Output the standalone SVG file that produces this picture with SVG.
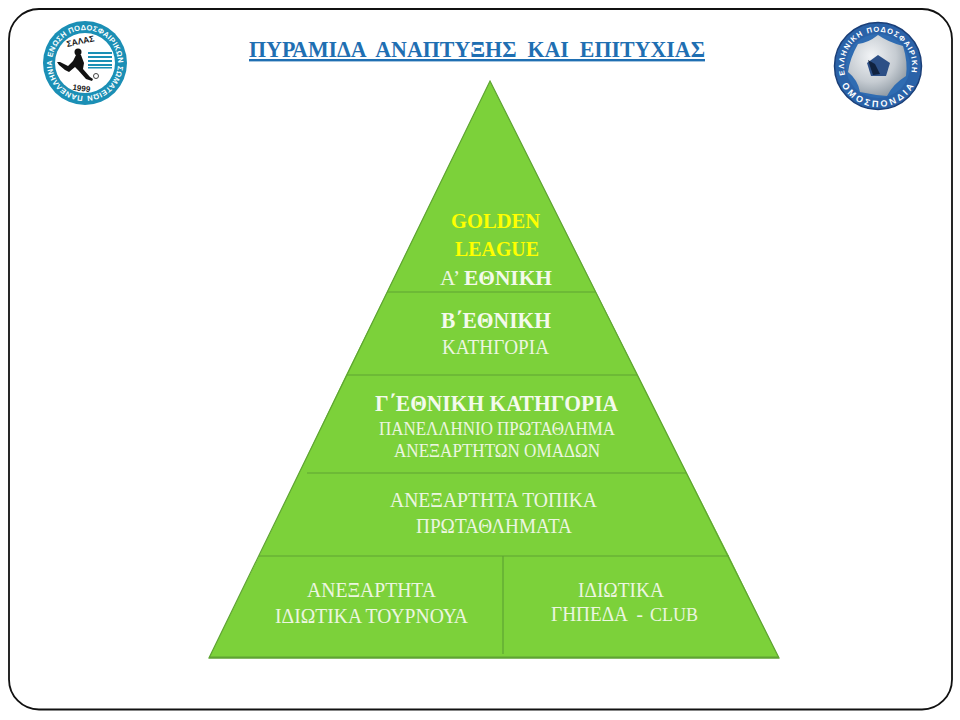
<svg xmlns="http://www.w3.org/2000/svg" width="960" height="720" viewBox="0 0 960 720">
<style>
.layer{fill:#7CD13A;stroke:none}
.div{stroke:#5EA432;stroke-width:1.2;fill:none}
text{font-family:"Liberation Serif","Noto Serif",serif}
.t{fill:#ECF6E0;font-size:22px;text-anchor:middle}
.b{font-weight:bold;fill:#F4FAEC}
.y{fill:#FFFF00;font-weight:bold;font-size:22px;text-anchor:middle}
.lg{font-family:"Liberation Sans",sans-serif;font-weight:bold;font-size:7.500px;fill:#fff}
.ls{font-family:"Liberation Sans",sans-serif;font-weight:bold;text-anchor:middle;fill:#1a1a1a}
</style>
<defs>
<radialGradient id="ball" cx="40%" cy="35%" r="70%"><stop offset="0" stop-color="#F2F4F6"/><stop offset="0.6" stop-color="#C6CCD2"/><stop offset="1" stop-color="#8E99A3"/></radialGradient>
<path id="arcL" d="M85,96 a33,33 0 1 1 0,-66 a33,33 0 1 1 0,66"/>
<path id="arcR" d="M845.200,74.800 a34,34 0 1 1 65.600,0"/>
<path id="arcRb" d="M840.800,83.300 a41,41 0 0 0 74.400,0"/>
</defs>
<rect width="960" height="720" fill="#fff"/>
<g id="frame"><rect x="9" y="9" width="943" height="700.500" rx="30" ry="30" fill="#fff" stroke="#111" stroke-width="1.800"/></g>
<g id="title"><text x="477" y="57" text-anchor="middle" font-size="24" font-weight="bold" fill="#1F6FB2" text-decoration="underline" style="white-space:pre" textLength="456" lengthAdjust="spacingAndGlyphs">ΠΥΡΑΜΙΔΑ  ΑΝΑΠΤΥΞΗΣ  ΚΑΙ  ΕΠΙΤΥΧΙΑΣ</text></g>
<g id="logo-salas">
<circle cx="85" cy="63" r="42" fill="#1B8FB5"/>
<circle cx="85" cy="63" r="30" fill="#fff"/>
<text class="lg"><textPath href="#arcL" startOffset="1%" textLength="203" lengthAdjust="spacing">ΠΑΝΕΛΛΗΝΙΑ ΕΝΩΣΗ ΠΟΔΟΣΦΑΙΡΙΚΩΝ ΣΩΜΑΤΕΙΩΝ</textPath></text>
<text class="ls" x="81" y="44" font-size="8.500" transform="rotate(-12 81 44)">ΣΑΛΑΣ</text>
<circle cx="78" cy="52" r="3.500" fill="#111"/>
<path d="M76 55 l5 0 3 8 -1 6 7 8 3 2 -1 2 -6 -2 -8 -9 -3 -3 -6 5 -4 -2 -6 -5 -2 -3 3 0 8 4 5 -5 z" fill="#111"/>
<g fill="#1B8FB5"><rect x="88" y="52" width="24" height="2"/><rect x="88" y="56" width="24" height="2"/><rect x="88" y="60" width="24" height="2"/><rect x="88" y="64" width="24" height="2"/><rect x="88" y="67" width="24" height="1.500"/></g>
<circle cx="96" cy="76" r="2.500" fill="#fff" stroke="#444"/>
<text class="ls" x="81" y="91" font-size="8" transform="rotate(8 81 91)">1999</text>
</g>
<g id="logo-epo">
<circle cx="878" cy="66" r="43.500" fill="#2A62A8" stroke="#1B3F78" stroke-width="1.500"/>
<circle cx="878" cy="66" r="32" fill="#2F6CB2"/>
<path d="M878 35 Q888 42 903 46 Q908 62 906 76 Q893 84 887 96 Q874 95 860 92 Q858 80 848 72 Q850 58 858 44 Q868 43 878 35 z" fill="url(#ball)"/>
<path d="M878 55 l12 8 -4 13 -15 0 -4 -13 z" fill="#2C4F86"/>
<path d="M868 60 l7 4 5 10 -7 1 z" fill="#10223F"/>
<text class="lg"><textPath href="#arcR" textLength="122">ΕΛΛΗΝΙΚΗ ΠΟΔΟΣΦΑΙΡΙΚΗ</textPath></text>
<text class="lg" style="font-size:9px"><textPath href="#arcRb" startOffset="2%" textLength="88">ΟΜΟΣΠΟΝΔΙΑ</textPath></text>
</g>
<g id="level-1"><polygon class="layer" points="490,81 596,292 387,292"/>
<text class="y" x="495.500" y="228" textLength="89" lengthAdjust="spacingAndGlyphs">GOLDEN</text>
<text class="y" x="497" y="256" textLength="84" lengthAdjust="spacingAndGlyphs">LEAGUE</text>
<text class="t" x="496" y="285" textLength="112" lengthAdjust="spacingAndGlyphs">Α’ <tspan class="b">ΕΘΝΙΚΗ</tspan></text></g>
<g id="level-2"><polygon class="layer" points="387,292 596,292 638,375 346,375"/>
<text class="t b" x="496" y="328" textLength="110" lengthAdjust="spacingAndGlyphs" style="font-size:24px">Β΄ΕΘΝΙΚΗ</text>
<text class="t" x="495.500" y="354" textLength="107" lengthAdjust="spacingAndGlyphs">ΚΑΤΗΓΟΡΙΑ</text></g>
<g id="level-3"><polygon class="layer" points="346,375 638,375 687,473 299,473"/>
<text class="t b" x="496.500" y="411" textLength="243" lengthAdjust="spacingAndGlyphs" style="font-size:24px">Γ΄ΕΘΝΙΚΗ ΚΑΤΗΓΟΡΙΑ</text>
<text class="t" x="497" y="435" textLength="236" lengthAdjust="spacingAndGlyphs" style="font-size:19px">ΠΑΝΕΛΛΗΝΙΟ ΠΡΩΤΑΘΛΗΜΑ</text>
<text class="t" x="497" y="457" textLength="206" lengthAdjust="spacingAndGlyphs" style="font-size:19px">ΑΝΕΞΑΡΤΗΤΩΝ ΟΜΑΔΩΝ</text></g>
<g id="level-4"><polygon class="layer" points="299,473 687,473 729,556 259,556"/>
<text class="t" x="493.500" y="507" textLength="207" lengthAdjust="spacingAndGlyphs">ΑΝΕΞΑΡΤΗΤΑ ΤΟΠΙΚΑ</text>
<text class="t" x="494" y="533" textLength="156" lengthAdjust="spacingAndGlyphs">ΠΡΩΤΑΘΛΗΜΑΤΑ</text></g>
<g id="level-5-left"><polygon class="layer" points="259,556 503,556 503,658 209,658"/>
<text class="t" x="371.500" y="597" textLength="129" lengthAdjust="spacingAndGlyphs">ΑΝΕΞΑΡΤΗΤΑ</text>
<text class="t" x="371.500" y="623" textLength="193" lengthAdjust="spacingAndGlyphs">ΙΔΙΩΤΙΚΑ ΤΟΥΡΝΟΥΑ</text></g>
<g id="level-5-right"><polygon class="layer" points="503,556 729,556 779,658 503,658"/>
<text class="t" x="621" y="597" textLength="86" lengthAdjust="spacingAndGlyphs">ΙΔΙΩΤΙΚΑ</text>
<text class="t" x="597" y="621" textLength="92" lengthAdjust="spacingAndGlyphs" style="white-space:pre">ΓΗΠΕΔΑ  -</text>
<text class="t" x="674" y="621" textLength="48" lengthAdjust="spacingAndGlyphs" style="font-size:19px">CLUB</text></g>
<g id="connectors">
<polygon points="490,81 779,658 209,658" fill="none" stroke="#5EA432" stroke-width="1.200"/>
<path d="M209 657.500H779" stroke="#5EA432" stroke-width="2" fill="none"/>
<path class="div" d="M387 292H596M347 375H637M307 473H686M259 556H729M503 556V654"/>
</g>
</svg>
